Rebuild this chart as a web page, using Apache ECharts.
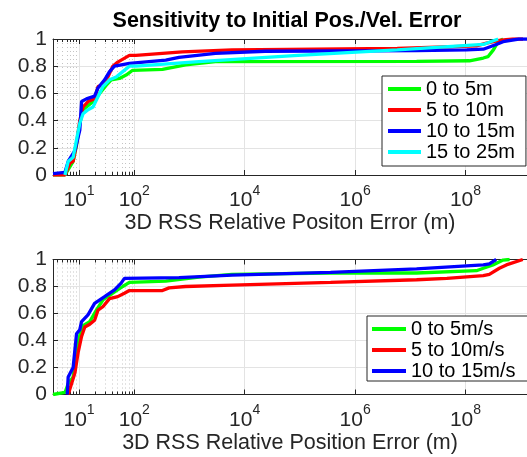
<!DOCTYPE html>
<html>
<head>
<meta charset="utf-8">
<script src="https://cdn.jsdelivr.net/npm/echarts@6/dist/echarts.min.js"></script>
<style>
html,body{margin:0;padding:0;background:#fff}
#main{width:527px;height:457px}
</style>
</head>
<body>
<div id="main"></div>
<script>
// axis range and ticks (log x)
var xMin = 3.37, xMax = 1.3e9;
var majorTicks = [10, 100, 1e4, 1e6, 1e8];
var minorTicks = [4, 5, 6, 7, 8, 9, 20, 30, 40, 50, 60, 70, 80, 90];

// top plot: initial position error
var posNames = ['0 to 5m', '5 to 10m', '10 to 15m', '15 to 25m'];
var pos0to5X = [3.37, 5.55, 6.35, 7.8, 9.0, 10.3, 11.8, 14.5, 19.1, 23.6, 31.1, 38.2, 54, 71, 93.4, 324, 850, 2950, 1.3e7, 1.18e8, 2.1e8, 2.55e8, 3.2e8, 3.9e8, 4.8e8];
var pos0to5Y = [0, 0, 0.04, 0.10, 0.22, 0.38, 0.48, 0.51, 0.55, 0.60, 0.66, 0.70, 0.71, 0.735, 0.77, 0.777, 0.81, 0.833, 0.835, 0.84, 0.86, 0.87, 0.92, 0.98, 1.0];
var pos5to10X = [3.37, 5.55, 6.8, 7.8, 9.0, 10.3, 11.8, 14.5, 19.1, 22, 25.3, 33.2, 40.8, 50.2, 81.5, 107, 740, 5900, 5.8e6, 1.58e8, 2.4e8, 4.1e8, 7.2e8, 1.1e9];
var pos5to10Y = [0, 0, 0.086, 0.10, 0.23, 0.40, 0.50, 0.54, 0.56, 0.65, 0.66, 0.72, 0.80, 0.83, 0.88, 0.88, 0.905, 0.92, 0.93, 0.95, 0.97, 0.99, 1.0, 1.0];
var pos10to15X = [3.37, 5.55, 6.35, 8.4, 10.3, 11.1, 13.6, 19.1, 22, 29, 35.6, 43.8, 81.5, 372, 645, 2950, 2.35e4, 1.3e7, 1.05e8, 2.1e8, 3.6e8, 4.8e8, 9.2e8, 1.3e9];
var pos10to15Y = [0.01, 0.02, 0.10, 0.18, 0.33, 0.54, 0.56, 0.58, 0.64, 0.70, 0.76, 0.80, 0.82, 0.845, 0.865, 0.895, 0.91, 0.915, 0.92, 0.925, 0.96, 0.98, 1.0, 1.0];
var pos15to25X = [5.55, 6.35, 7.8, 9.0, 10.3, 11.8, 14.5, 17.9, 22, 27, 35.6, 47, 61.8, 81.5, 107, 1480, 9.2e4, 5.8e6, 2.1e8, 3.9e8];
var pos15to25Y = [0, 0.10, 0.13, 0.26, 0.38, 0.45, 0.48, 0.50, 0.575, 0.65, 0.70, 0.72, 0.76, 0.80, 0.80, 0.833, 0.88, 0.92, 0.96, 1.0];

// bottom plot: initial velocity error
var velNames = ['0 to 5m/s', '5 to 10m/s', '10 to 15m/s'];
var vel0to5X = [3.37, 5.55, 6.35, 7.8, 9.0, 10.3, 11.8, 15.6, 20.6, 27, 40.8, 61.8, 81.5, 372, 1480, 5900, 3.6e5, 1.3e7, 1.58e8, 2.1e8, 3.15e8, 4.8e8, 6.3e8];
var vel0to5Y = [0, 0.015, 0.08, 0.13, 0.33, 0.44, 0.51, 0.54, 0.625, 0.70, 0.75, 0.80, 0.83, 0.84, 0.87, 0.89, 0.90, 0.90, 0.917, 0.935, 0.96, 0.996, 1.0];
var vel5to10X = [6.35, 7.3, 8.4, 9.6, 11.1, 12.7, 15.6, 19.1, 22, 27, 35.6, 50.2, 66.2, 81.5, 324, 427, 850, 5900, 3.6e5, 1.3e7, 4.6e7, 2.1e8, 2.7e8, 4.1e8, 5.5e8, 1.09e9];
var vel5to10Y = [0, 0.08, 0.16, 0.31, 0.43, 0.50, 0.52, 0.55, 0.625, 0.65, 0.71, 0.725, 0.75, 0.77, 0.77, 0.79, 0.80, 0.81, 0.83, 0.85, 0.86, 0.88, 0.89, 0.935, 0.96, 1.0];
var vel10to15X = [6.1, 6.35, 7.8, 8.4, 9.0, 10.3, 11.1, 14.5, 19.1, 29, 43.8, 57.8, 66.2, 645, 5900, 3.6e5, 1.3e7, 2.1e8, 2.7e8, 3.6e8];
var vel10to15Y = [0, 0.13, 0.2, 0.33, 0.45, 0.48, 0.54, 0.59, 0.675, 0.725, 0.775, 0.825, 0.86, 0.865, 0.885, 0.905, 0.93, 0.96, 0.967, 1.0];

var axisColor = '#262626';
var gridColor = '#e3e3e3';
var font = 'Liberation Sans, Arial, sans-serif';

function zip(xs, ys) {
  return xs.map(function (x, i) { return [x, ys[i]]; });
}

// one log x axis; several stacked per grid for ticks / grid lines / box
function xAx(gi, pos, ticks, o) {
  o = o || {};
  return {
    type: 'log', logBase: 10, min: xMin, max: xMax, gridIndex: gi, position: pos,
    axisLine: { show: !!o.line, onZero: false, lineStyle: { color: axisColor, width: 1 } },
    axisTick: { show: true, inside: true, length: o.tickLen || 5, customValues: ticks, lineStyle: { color: axisColor } },
    axisLabel: o.label || { show: false },
    splitLine: o.split || { show: false },
    minorTick: { show: false }, minorSplitLine: { show: false },
    name: o.name || '', nameLocation: 'middle', nameGap: o.nameGap || 30,
    nameTextStyle: { fontSize: 21.5, color: axisColor, fontFamily: font }
  };
}

var tickLabel = {
  show: true, margin: 9, customValues: majorTicks,
  formatter: function (v) { return '{b|10}{s|' + Math.round(Math.log10(v)) + '}'; },
  rich: {
    b: { fontSize: 21, color: axisColor, fontFamily: font, padding: [6, 0, 0, 0] },
    s: { fontSize: 14, color: axisColor, fontFamily: font, verticalAlign: 'top' }
  }
};

function xSet(gi, name, gap) {
  return [
    xAx(gi, 'bottom', majorTicks, { line: true, label: tickLabel, name: name, nameGap: gap,
      split: { show: true, lineStyle: { color: gridColor, width: 1 } } }),
    xAx(gi, 'bottom', minorTicks, { tickLen: 3,
      split: { show: true, lineStyle: { color: '#c4c4c4', width: 1, type: [1, 3] } } }),
    xAx(gi, 'top', majorTicks, { line: true }),
    xAx(gi, 'top', minorTicks, { tickLen: 3 })
  ];
}

function yAx(gi) {
  return {
    type: 'value', min: 0, max: 1, interval: 0.2, gridIndex: gi,
    axisLine: { show: true, lineStyle: { color: axisColor } },
    axisTick: { show: true, inside: true, length: 5, lineStyle: { color: axisColor } },
    axisLabel: { fontSize: 21, color: axisColor, fontFamily: font, margin: 6 },
    splitLine: { show: true, lineStyle: { color: gridColor } }
  };
}

function line(name, xs, ys, color, xi, yi) {
  return {
    name: name, type: 'line', data: zip(xs, ys), xAxisIndex: xi, yAxisIndex: yi,
    showSymbol: false, symbol: 'none', color: color,
    lineStyle: { width: 3.3, color: color }
  };
}

function legendBox(names, left, top, pad, w) {
  return {
    data: names, orient: 'vertical', left: left, top: top, padding: pad,
    icon: 'rect', itemWidth: w, itemHeight: 4, itemGap: 1,
    textStyle: { fontSize: 20, lineHeight: 20, color: '#000', fontFamily: font },
    backgroundColor: '#fff', borderColor: axisColor, borderWidth: 1, borderRadius: 0
  };
}

var myChart = echarts.init(document.getElementById('main'));
var option = {
  animation: false,
  textStyle: { fontFamily: font },
  title: {
    text: 'Sensitivity to Initial Pos./Vel. Error', left: 287, top: 10, padding: 0, textAlign: 'center',
    textStyle: { fontSize: 21.5, fontWeight: 'bold', color: '#000', fontFamily: font }
  },
  grid: [
    { left: 53, top: 39, height: 136, right: -4 },
    { left: 53, top: 259.5, height: 135, right: -4 }
  ],
  xAxis: xSet(0, '3D RSS Relative Positon Error (m)', 37)
    .concat(xSet(1, '3D RSS Relative Position Error (m)', 38)),
  yAxis: [yAx(0), yAx(1)],
  legend: [
    legendBox(posNames, 382, 76, [3, 11, 4, 6], 33),
    legendBox(velNames, 367, 316, [3, 13, 0, 5], 34)
  ],
  series: [
    line(posNames[0], pos0to5X, pos0to5Y, '#00ff00', 0, 0),
    line(posNames[1], pos5to10X, pos5to10Y, '#ff0000', 0, 0),
    line(posNames[2], pos10to15X, pos10to15Y, '#0000ff', 0, 0),
    line(posNames[3], pos15to25X, pos15to25Y, '#00ffff', 0, 0),
    line(velNames[0], vel0to5X, vel0to5Y, '#00ff00', 4, 1),
    line(velNames[1], vel5to10X, vel5to10Y, '#ff0000', 4, 1),
    line(velNames[2], vel10to15X, vel10to15Y, '#0000ff', 4, 1)
  ]
};
myChart.setOption(option);
</script>
</body>
</html>
